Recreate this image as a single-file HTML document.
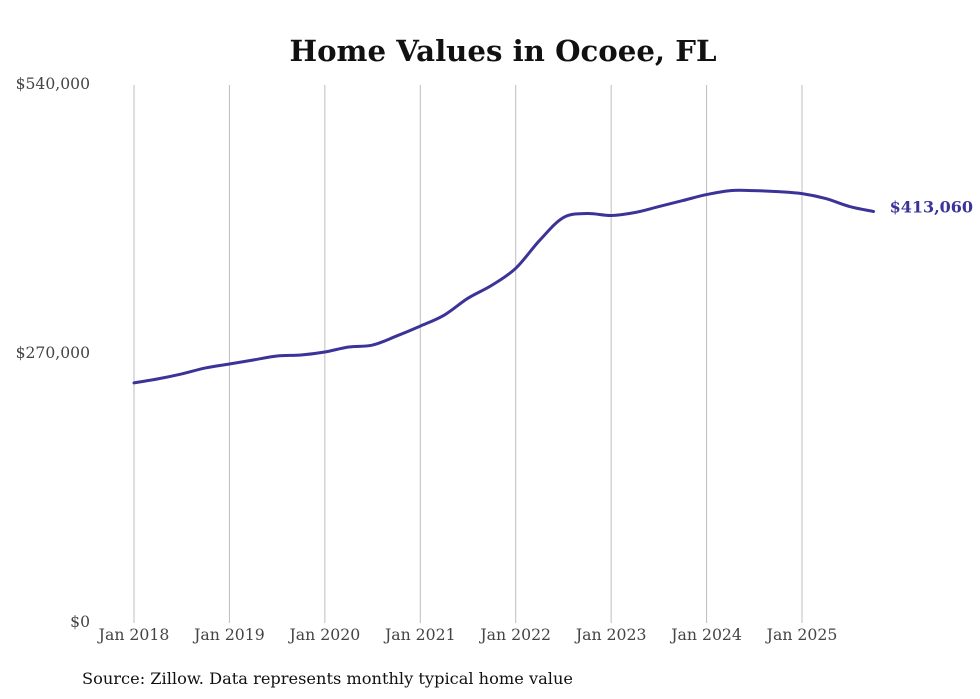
<!DOCTYPE html>
<html><head><meta charset="utf-8"><style>
body{margin:0;background:#fff;}
svg{display:block;}
</style></head><body>
<svg id="chart" width="980" height="699" viewBox="0 0 980 699">
<rect width="980" height="699" fill="#fff"/>
<text x="503" y="61" text-anchor="middle" textLength="427" lengthAdjust="spacingAndGlyphs" font-family="'DejaVu Serif','Liberation Serif',serif" font-weight="bold" font-size="29" fill="#111">Home Values in Ocoee, FL</text>
<g id="grid"></g>
<g id="yaxis"></g>
<g id="xaxis"></g>
<path id="line" fill="none" stroke="#3b3398" stroke-width="3" stroke-linejoin="round" stroke-linecap="round"/>
<text id="endlabel" font-family="'DejaVu Serif','Liberation Serif',serif" font-weight="bold" font-size="16" fill="#3b3398"></text>
<text x="82" y="684" textLength="491" lengthAdjust="spacingAndGlyphs" font-family="'DejaVu Serif','Liberation Serif',serif" font-size="16" fill="#111">Source: Zillow. Data represents monthly typical home value</text>
</svg>
<script>
const months = [0,3,6,9,12,15,18,21,24,27,30,33,36,39,42,45,48,51,54,57,60,63,66,69,72,75,78,81,84,87,90,93];
const values = [241000,245000,250000,256000,260000,264000,268000,269000,272000,277000,279000,288000,298000,309000,326000,339000,356000,384000,407000,411000,409000,412000,418000,424000,430000,434000,434000,433000,431000,426000,418000,413060];
const yTicks = [0,270000,540000];
const yTickLabels = ["$0","$270,000","$540,000"];
const xTickMonths = [0,12,24,36,48,60,72,84];
const xTickLabels = ["Jan 2018","Jan 2019","Jan 2020","Jan 2021","Jan 2022","Jan 2023","Jan 2024","Jan 2025"];
const NS="http://www.w3.org/2000/svg";
const x = m => 134 + m*(802-134)/84;
const y = v => 623 - v*(623-85)/540000;
function mk(tag,attrs,parent,text){const e=document.createElementNS(NS,tag);for(const k in attrs)e.setAttribute(k,attrs[k]);if(text!==undefined)e.textContent=text;parent.appendChild(e);return e;}
const grid=document.getElementById('grid'),ya=document.getElementById('yaxis'),xa=document.getElementById('xaxis');
xTickMonths.forEach((m,i)=>{
  const l=mk('line',{x1:x(m),x2:x(m),y1:85,y2:623,stroke:'#bdbdbd','stroke-width':1},grid);
  
  
  const t=mk('text',{x:x(m),y:640,'text-anchor':'middle','font-family':"'DejaVu Serif','Liberation Serif',serif",'font-size':15.7,fill:'#444'},xa,xTickLabels[i]);
  
  
});
yTicks.forEach((v,i)=>{
  const t=mk('text',{x:90,y:y(v)+4,'text-anchor':'end','font-family':"'DejaVu Serif','Liberation Serif',serif",'font-size':15.6,fill:'#444'},ya,yTickLabels[i]);
  
  
});
const pts=months.map((m,i)=>[x(m),y(values[i])]);
let d='M'+pts[0][0]+','+pts[0][1];
for(let i=0;i<pts.length-1;i++){
  const p0=pts[i-1]||pts[i],p1=pts[i],p2=pts[i+1],p3=pts[i+2]||p2;
  const c1=[p1[0]+(p2[0]-p0[0])/6,p1[1]+(p2[1]-p0[1])/6];
  const c2=[p2[0]-(p3[0]-p1[0])/6,p2[1]-(p3[1]-p1[1])/6];
  d+=` C${c1[0]},${c1[1]} ${c2[0]},${c2[1]} ${p2[0]},${p2[1]}`;
}
document.getElementById('line').setAttribute('d',d);
const last=values.length-1,el=document.getElementById('endlabel');
el.setAttribute('x',x(months[last])+16);
el.setAttribute('y',y(values[last])+1);
el.textContent='$'+values[last].toLocaleString('en-US');
</script>
</body></html>
